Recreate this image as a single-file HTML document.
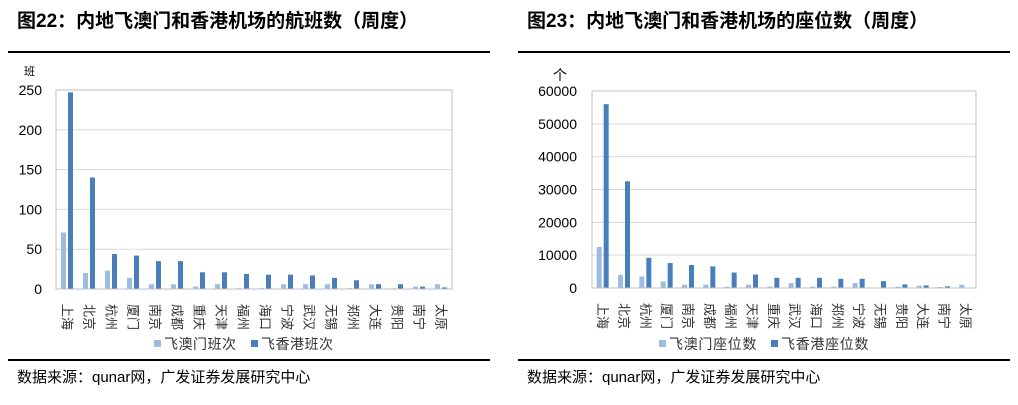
<!DOCTYPE html>
<html><head><meta charset="utf-8"><style>
body{margin:0;background:#fff;width:1018px;height:400px;overflow:hidden;font-family:"Liberation Sans","Noto Sans CJK SC",sans-serif}
svg text{font-family:"Liberation Sans","Noto Sans CJK SC",sans-serif}
</style></head><body>
<svg id="s" width="1018" height="400" xmlns="http://www.w3.org/2000/svg">
<text x="17" y="27" font-size="19" font-weight="bold" fill="#000">图22：内地飞澳门和香港机场的航班数（周度）</text>
<text x="527" y="27" font-size="19" font-weight="bold" fill="#000">图23：内地飞澳门和香港机场的座位数（周度）</text>
<rect x="8" y="51" width="482" height="2" fill="#000"/>
<rect x="518" y="51" width="492" height="2" fill="#000"/>
<rect x="8" y="359" width="482" height="2" fill="#000"/>
<rect x="518" y="359" width="492" height="2" fill="#000"/>
<text x="17" y="382" font-size="15" fill="#000">数据来源：qunar网，广发证券发展研究中心</text>
<text x="527" y="382" font-size="15" fill="#000">数据来源：qunar网，广发证券发展研究中心</text>
<text x="24" y="75" font-size="11" fill="#000">班</text>
<text x="553" y="80" font-size="14" fill="#000">个</text>
</svg>
<script>
var s=document.getElementById('s'),NS='http://www.w3.org/2000/svg';
function el(t,a,txt){var e=document.createElementNS(NS,t);for(var k in a)e.setAttribute(k,a[k]);if(txt!=null)e.textContent=txt;s.appendChild(e);return e;}
function chart(o){
 var w=o.x1-o.x0,h=o.yb-o.yt;
 for(var i=0;i<=o.n;i++){var y=o.yb-h*i/o.n;
  if(i>0)el('line',{x1:o.x0,x2:o.x1,y1:y,y2:y,stroke:'#d9d9d9','stroke-width':1});
  el('text',{x:o.lx,y:y+5,'font-size':14,'text-anchor':'end',fill:'#000'},String(o.step*i));}
 el('rect',{x:o.x0,y:o.yt,width:w,height:h,fill:'none',stroke:'#bfbfbf','stroke-width':1});
 var cw=w/18,max=o.step*o.n;
 for(var i=0;i<18;i++){var cx=o.x0+cw*i;
  var a=o.a[i],b=o.b[i];
  var ha=h*a/max,hb=h*b/max;
  el('rect',{x:cx+cw/2-6,y:o.yb-ha,width:5,height:ha,fill:'#9dbde0'});
  el('rect',{x:cx+cw/2+1,y:o.yb-hb,width:5,height:hb,fill:'#4a7ebb'});
  el('text',{x:0,y:0,'font-size':13,'dominant-baseline':'central',fill:'#333',transform:'translate('+(cx+cw/2)+','+(o.yb+15)+') rotate(90)'},o.c[i]);
 }
 el('line',{x1:o.x0,x2:o.x1,y1:o.yb,y2:o.yb,stroke:'#bfbfbf'});
 el('rect',{x:o.lg,y:340,width:7,height:7,fill:'#9dbde0'});
 el('text',{x:o.lg+10,y:349,'font-size':14,fill:'#333','letter-spacing':o.ls},o.l1);
 el('rect',{x:o.lg+o.d,y:340,width:7,height:7,fill:'#4a7ebb'});
 el('text',{x:o.lg+o.d+10,y:349,'font-size':14,fill:'#333','letter-spacing':o.ls},o.l2);
}
chart({x0:56,x1:452,yt:90,yb:289,n:5,step:50,lx:42,lg:154,d:97,ls:0.5,
 c:['上海','北京','杭州','厦门','南京','成都','重庆','天津','福州','海口','宁波','武汉','无锡','郑州','大连','贵阳','南宁','太原'],
 a:[71,20,23,14,6,6,3,6,1,1,6,6,6,1,6,1,3,6],
 b:[247,140,44,42,35,35,21,21,19,18,18,17,14,11,6,6,3,2],
 l1:'飞澳门班次',l2:'飞香港班次'});
chart({x0:592,x1:976,yt:91,yb:288,n:6,step:10000,lx:577,lg:659,d:112,ls:0.7,
 c:['上海','北京','杭州','厦门','南京','成都','福州','天津','重庆','武汉','海口','郑州','宁波','无锡','贵阳','大连','南宁','太原'],
 a:[12500,4000,3500,2000,1000,1000,400,1000,400,1500,400,400,1500,0,400,700,300,1000],
 b:[56000,32500,9200,7600,7000,6600,4700,4100,3100,3100,3100,2800,2800,2100,1100,800,500,0],
 l1:'飞澳门座位数',l2:'飞香港座位数'});
</script>
</body></html>
